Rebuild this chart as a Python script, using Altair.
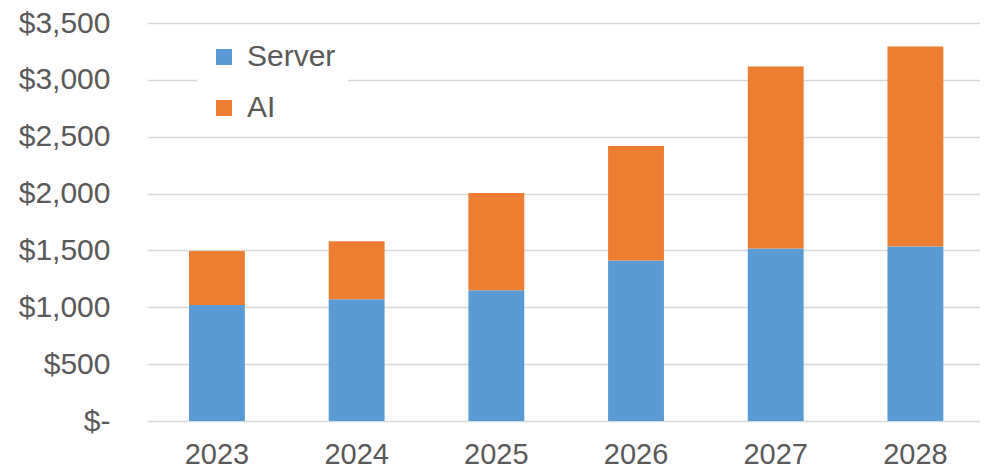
import altair as alt
import pandas as pd

years = ["2023", "2024", "2025", "2026", "2027", "2028"]
server = [1021, 1071, 1150, 1412, 1517, 1535]
ai = [473, 510, 854, 1006, 1601, 1758]
series = ["Server", "AI"]
colors = ["#5B9BD5", "#ED7D31"]

rows = []
for i, y in enumerate(years):
    rows.append({"year": y, "series": "Server", "value": server[i], "order": 0})
    rows.append({"year": y, "series": "AI", "value": ai[i], "order": 1})
df = pd.DataFrame(rows)

font = "Liberation Sans"
gray = "#595959"

chart = alt.Chart(df).mark_bar(strokeWidth=0).encode(
    x=alt.X("year:N", sort=years, title=None,
            scale=alt.Scale(paddingInner=0.6, paddingOuter=0.2815, align=0.534),
            axis=alt.Axis(labelAngle=0, labelFontSize=29, labelColor=gray, labelFont=font,
                          ticks=False, domain=False, labelPadding=19, grid=False)),
    y=alt.Y("value:Q", stack="zero", title=None,
            scale=alt.Scale(domain=[0, 3500], nice=False),
            axis=alt.Axis(values=[0, 500, 1000, 1500, 2000, 2500, 3000, 3500],
                          labelExpr="datum.value == 0 ? '$-\u00a0\u00a0' : '$' + format(datum.value, ',')",
                          labelFontSize=30, labelColor=gray, labelFont=font,
                          ticks=False, domain=False, labelPadding=37,
                          grid=True, gridColor="#D9D9D9", gridWidth=1.5)),
    color=alt.Color("series:N", sort=series,
                    scale=alt.Scale(domain=series, range=colors),
                    legend=alt.Legend(title=None, orient="none", legendX=50, legendY=7,
                                      symbolType="square", symbolSize=256, symbolStrokeWidth=0,
                                      labelFontSize=30, labelColor=gray, labelFont=font,
                                      labelOffset=8, rowPadding=21, fillColor="white",
                                      padding=12)),
    order=alt.Order("order:Q"),
).properties(
    width=833, height=398,
    padding={"left": 139, "top": 15, "right": 0, "bottom": 45},
    autosize=alt.AutoSizeParams(type="none"),
).configure(background="white").configure_view(stroke=None, strokeWidth=0)

chart.save("out.html", embed_options={"renderer": "svg", "actions": False})
